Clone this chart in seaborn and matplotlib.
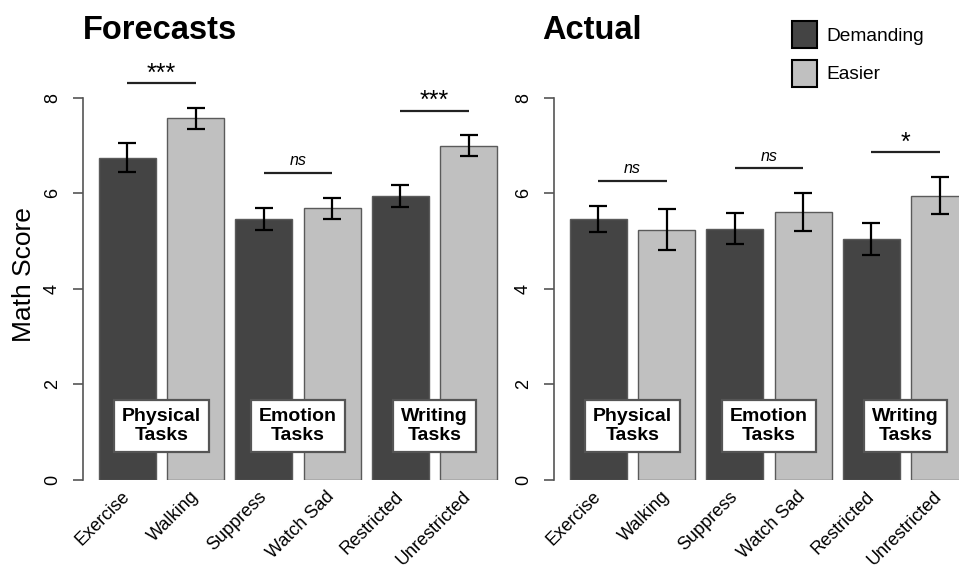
import matplotlib
matplotlib.use("Agg")
import matplotlib.pyplot as plt
from matplotlib.patches import Patch
import seaborn as sns
import pandas as pd
import numpy as np

# ---- data -------------------------------------------------------------
tasks = ["Exercise", "Walking", "Suppress", "Watch Sad", "Restricted", "Unrestricted"]
conditions = ["Demanding", "Easier", "Demanding", "Easier", "Demanding", "Easier"]
group_labels = ["Physical\nTasks", "Emotion\nTasks", "Writing\nTasks"]

forecast_mean = [6.74, 7.57, 5.45, 5.69, 5.94, 6.99]
forecast_se = [0.30, 0.22, 0.23, 0.22, 0.23, 0.22]
forecast_sig = ["***", "ns", "***"]

actual_mean = [5.46, 5.24, 5.26, 5.60, 5.04, 5.95]
actual_se = [0.28, 0.42, 0.33, 0.40, 0.33, 0.39]
actual_sig = ["ns", "ns", "*"]

y_ticks = [0, 2, 4, 6, 8]

# ---- style ------------------------------------------------------------
sns.set_style("white")
plt.rcParams["font.family"] = ["Liberation Sans", "DejaVu Sans"]
plt.rcParams["text.color"] = "black"
plt.rcParams["xtick.color"] = "black"
plt.rcParams["ytick.color"] = "black"

DARK = "#444444"
LIGHT = "#c0c0c0"
EDGE = "#5a5a5a"
palette = {"Demanding": DARK, "Easier": LIGHT}

W, H = 959, 568
fig = plt.figure(figsize=(W / 100, H / 100), dpi=100)

# axes geometry in pixels: y=0 at 480 px from top, 47.8 px per unit
px_per_unit = 47.8
y_top = 9.0
bottom_px = 480
ax_h_px = y_top * px_per_unit
ax_w_px = 430


def make_axes(left_px):
    return fig.add_axes([left_px / W, (H - bottom_px) / H,
                         ax_w_px / W, ax_h_px / H])


def draw_panel(ax, means, ses, sigs):
    df = pd.DataFrame({"task": tasks, "score": means, "condition": conditions})
    sns.barplot(data=df, x="task", y="score", hue="condition", order=tasks,
                hue_order=["Demanding", "Easier"], palette=palette,
                dodge=False, width=0.833, errorbar=None, legend=False,
                edgecolor=EDGE, linewidth=1.0, saturation=1.0, ax=ax)
    xs = np.arange(len(tasks))
    ax.errorbar(xs, means, yerr=ses, fmt="none", ecolor="black",
                elinewidth=1.6, capsize=6.8, capthick=1.6, zorder=5)

    # significance brackets over each pair
    for g, sig in enumerate(sigs):
        i, j = 2 * g, 2 * g + 1
        h = max(means[i] + ses[i], means[j] + ses[j]) + 0.52
        ax.plot([xs[i], xs[j]], [h, h], color="#222222", lw=1.6,
                clip_on=False, solid_capstyle="butt")
        if sig == "ns":
            ax.text((xs[i] + xs[j]) / 2, h + 0.16, sig, ha="center",
                    va="baseline", fontsize=11.5, style="italic", clip_on=False)
        else:
            ax.text((xs[i] + xs[j]) / 2, h + 0.05, sig, ha="center",
                    va="baseline", fontsize=18, clip_on=False)

    # task-group labels in boxes
    for g, lab in enumerate(group_labels):
        ax.text(2 * g + 0.5, 1.13, lab, ha="center", va="center",
                fontsize=14, fontweight="bold", linespacing=1.15, zorder=6,
                bbox=dict(boxstyle="square,pad=0.42", facecolor="white",
                          edgecolor="#555555", linewidth=1.6))

    ax.set_xlim(-0.65, 5.65)
    ax.set_ylim(0, y_top)
    ax.set_xlabel("")
    ax.set_ylabel("")
    for s in ["top", "right", "bottom"]:
        ax.spines[s].set_visible(False)
    ax.spines["left"].set_bounds(0, 8)
    ax.spines["left"].set_color("#555555")
    ax.spines["left"].set_linewidth(1.2)
    ax.set_yticks(y_ticks)
    ax.set_yticklabels([str(t) for t in y_ticks], rotation=90, va="center",
                       fontsize=13)
    ax.tick_params(axis="y", length=7, width=1.2, color="#555555", pad=9,
                   left=True)
    ax.tick_params(axis="x", length=0, pad=10)
    ax.set_xticks(xs)
    ax.set_xticklabels(tasks, rotation=45, ha="right",
                       rotation_mode="anchor", fontsize=13)
    for lbl in ax.get_xticklabels():
        lbl.set_va("center")


ax1 = make_axes(83)
draw_panel(ax1, forecast_mean, forecast_se, forecast_sig)
ax2 = make_axes(554)
draw_panel(ax2, actual_mean, actual_se, actual_sig)

fig.text(83 / W, 1 - 39 / H, "Forecasts", fontsize=23.5, fontweight="bold",
         ha="left", va="baseline")
fig.text(542 / W, 1 - 39 / H, "Actual", fontsize=23.5, fontweight="bold",
         ha="left", va="baseline")
fig.text(24 / W, 1 - 275 / H, "Math Score", fontsize=19, rotation=90,
         ha="center", va="center")

handles = [Patch(facecolor=DARK, edgecolor="black", linewidth=1.5),
           Patch(facecolor=LIGHT, edgecolor="black", linewidth=1.5)]
fig.legend(handles, ["Demanding", "Easier"], loc="upper left",
           bbox_to_anchor=(792 / W, 1 - 21 / H), frameon=False,
           fontsize=13.8, handlelength=1.3, handleheight=1.8,
           handletextpad=0.47, labelspacing=0.6, borderpad=0,
           borderaxespad=0)

fig.savefig("out.png", dpi=100)
